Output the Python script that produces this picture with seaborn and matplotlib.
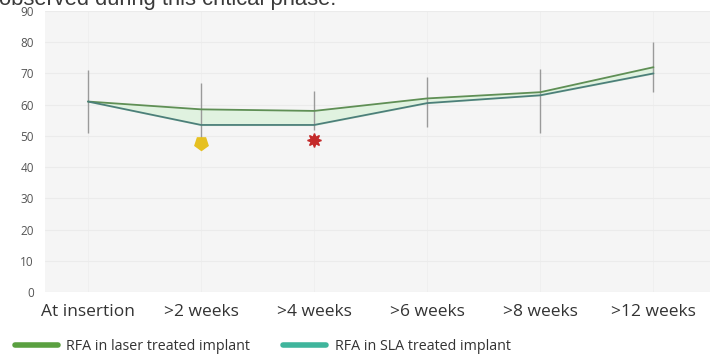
import matplotlib
matplotlib.use("Agg")
import matplotlib.pyplot as plt
from matplotlib.lines import Line2D
import seaborn as sns
import pandas as pd

# Resonance frequency analysis (ISQ) over healing time
timepoints = ["At insertion", ">2 weeks", ">4 weeks", ">6 weeks", ">8 weeks", ">12 weeks"]
laser_isq = [61, 58.5, 58, 62, 64, 72]
sla_isq = [61, 53.5, 53.5, 60.5, 63, 70]
err_low = [51, 48.5, 52, 53, 51, 64]
err_high = [71, 67, 64.5, 69, 71.5, 80]
yticks = [0, 10, 20, 30, 40, 50, 60, 70, 80, 90]
laser_label = "RFA in laser treated implant"
sla_label = "RFA in SLA treated implant"
caption = "observed during this critical phase."

sns.set_theme(style="white")
plt.rcParams["font.family"] = ["Open Sans", "DejaVu Sans"]

laser_color = "#5f8f55"
sla_color = "#4c7f7a"
laser_legend = "#5aa040"
sla_legend = "#3fb59c"

df = pd.DataFrame({
    "x": list(range(len(timepoints))) * 2,
    "isq": laser_isq + sla_isq,
    "series": [laser_label] * len(timepoints) + [sla_label] * len(timepoints),
})

fig = plt.figure(figsize=(7.1, 3.61), dpi=100)
ax = fig.add_axes([45 / 710, 69 / 361, 665 / 710, 281 / 361])
ax.set_facecolor("#f5f5f5")

xs = list(range(len(timepoints)))
ax.fill_between(xs, sla_isq, laser_isq, color="#e0f2e0", zorder=1)

# error bars
mid = [(lo + hi) / 2 for lo, hi in zip(err_low, err_high)]
ax.errorbar(xs, mid, yerr=[[m - lo for m, lo in zip(mid, err_low)],
                           [hi - m for m, hi in zip(mid, err_high)]],
            fmt="none", ecolor="#9a9a9a", elinewidth=1.0, capsize=0, zorder=2)

sns.lineplot(data=df, x="x", y="isq", hue="series",
             palette={laser_label: laser_color, sla_label: sla_color},
             linewidth=1.3, legend=False, ax=ax, zorder=3)

# significance markers
ax.plot([1], [47.8], marker=(5, 0, 180), markersize=10, color="#e6c020",
        linestyle="none", zorder=4)
ax.plot([2], [48.7], marker=(8, 1, 0), markersize=10, color="#c42a2a",
        linestyle="none", zorder=4)

ax.set_xlim(-0.38, 5.5)
ax.set_ylim(0, 90)
ax.set_yticks(yticks)
ax.set_yticklabels([str(t) for t in yticks], fontsize=8.5, color="#555555")
ax.set_xticks(xs)
ax.set_xticklabels(timepoints, fontsize=12.5, color="#333333")
ax.tick_params(axis="x", length=0, pad=9)
ax.tick_params(axis="y", length=0, pad=8)
ax.yaxis.grid(True, color="#ebebeb", linewidth=0.8)
ax.xaxis.grid(True, color="#efefef", linewidth=0.6)
ax.set_axisbelow(True)
ax.set_xlabel("")
ax.set_ylabel("")
for s in ax.spines.values():
    s.set_visible(False)

handles = [Line2D([], [], color=laser_legend, linewidth=4),
           Line2D([], [], color=sla_legend, linewidth=4)]
fig.legend(handles, [laser_label, sla_label], loc="center left",
           bbox_to_anchor=(15 / 710, 1 - 347 / 361), ncol=2, frameon=False,
           fontsize=10.3, handlelength=3.0, handletextpad=0.6,
           columnspacing=2.3, borderpad=0, borderaxespad=0,
           labelcolor="#333333")

fig.text(-0.002, 1 - 5.5 / 361, caption, fontsize=15.8, color="#3a3a3a",
         family="Liberation Sans", va="baseline", ha="left")

fig.savefig("out.png", dpi=100)
